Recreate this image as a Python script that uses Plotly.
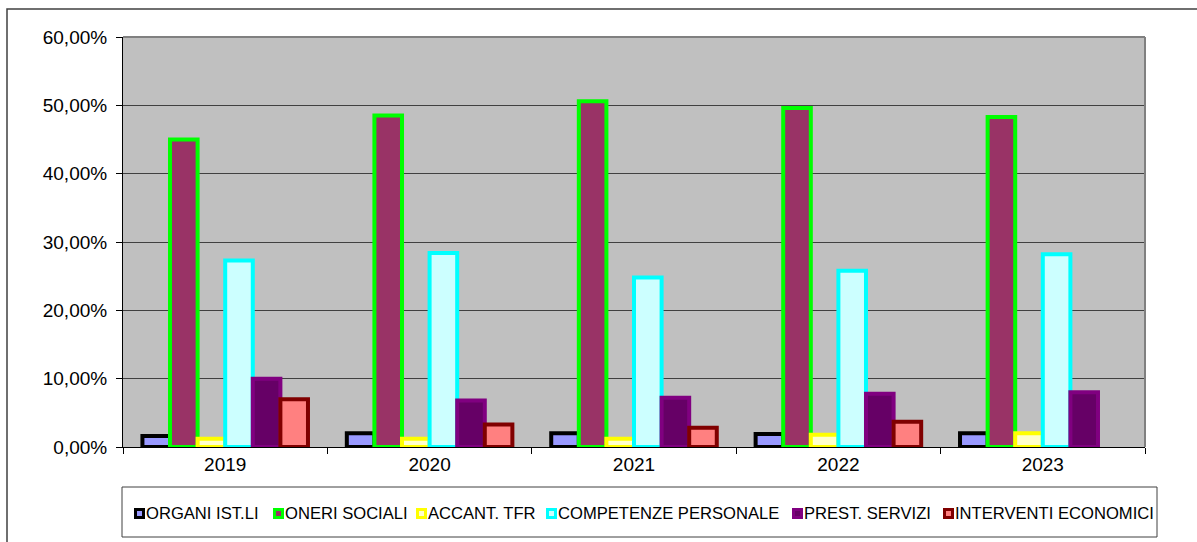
import plotly.graph_objects as go

years = ["2019", "2020", "2021", "2022", "2023"]
organi = [1.6, 2.0, 2.0, 1.9, 2.0]
oneri = [45.0, 48.5, 50.6, 49.6, 48.3]
accant = [1.2, 1.2, 1.2, 1.8, 2.0]
competenze = [27.3, 28.4, 24.8, 25.8, 28.2]
prest = [10.0, 6.8, 7.2, 7.8, 8.0]
interventi = [7.0, 3.3, 2.8, 3.7, None]

names = ["ORGANI IST.LI", "ONERI SOCIALI", "ACCANT. TFR",
         "COMPETENZE PERSONALE", "PREST. SERVIZI", "INTERVENTI ECONOMICI"]
values = [organi, oneri, accant, competenze, prest, interventi]
fills = ["#9999FF", "#993366", "#FFFFCC", "#CCFFFF", "#660066", "#FF8080"]
lines = ["#000000", "#00FF00", "#FFFF00", "#00FFFF", "#800080", "#800000"]

fig = go.Figure()
for name, vals, fill, line in zip(names, values, fills, lines):
    fig.add_trace(go.Bar(
        x=years, y=vals, name=name,
        marker=dict(color=fill, line=dict(color=line, width=4)),
    ))

L, R, T, B = 123, 52, 37, 95
W, H = 1197, 542
pw, ph = W - L - R, H - T - B

def px(x):
    return (x - L) / pw

def py(y):
    return (H - B - y) / ph

shapes = [
    dict(type="rect", xref="paper", yref="paper",
         x0=px(7), x1=px(1300), y0=py(700), y1=py(9),
         line=dict(color="#404040", width=1.5), layer="below"),
    dict(type="rect", xref="paper", yref="paper",
         x0=px(122), x1=px(1157), y0=py(537), y1=py(487),
         line=dict(color="#404040", width=1), layer="below"),
    dict(type="line", xref="paper", yref="paper",
         x0=0, x1=1, y0=1, y1=1,
         line=dict(color="#808080", width=2), layer="above"),
    dict(type="line", xref="paper", yref="paper",
         x0=1, x1=1, y0=0, y1=1,
         line=dict(color="#808080", width=2), layer="above"),
]
annotations = []
# custom legend (compact, like the original)
leg_x = [134, 273, 416, 546, 792, 943]
leg_cy = 513
for lx, name, fill, line in zip(leg_x, names, fills, lines):
    shapes.append(dict(type="rect", xref="paper", yref="paper",
                       x0=px(lx + 1.5), x1=px(lx + 9.5),
                       y0=py(leg_cy + 4.5), y1=py(leg_cy - 3.5),
                       fillcolor=fill, line=dict(color=line, width=3),
                       layer="above"))
    annotations.append(dict(xref="paper", yref="paper",
                            x=px(lx + 10), y=py(leg_cy),
                            xanchor="left", yanchor="middle",
                            text=name, showarrow=False,
                            font=dict(size=16.6, color="black")))

fig.update_layout(
    width=W, height=H,
    margin=dict(l=L, r=R, t=T, b=B),
    paper_bgcolor="white",
    plot_bgcolor="#C0C0C0",
    barmode="group",
    bargap=0.19,
    bargroupgap=0,
    separators=",.",
    font=dict(family="Arial, Liberation Sans, sans-serif", color="black"),
    showlegend=False,
    shapes=shapes,
    annotations=annotations,
)

fig.update_xaxes(
    type="category",
    showline=True, linecolor="black", linewidth=1,
    ticks="outside", tickson="boundaries", ticklen=6, tickcolor="black",
    tickfont=dict(size=19, color="black"),
    showgrid=False,
)
fig.update_yaxes(
    range=[0, 60], dtick=10,
    tickformat=".2f", ticksuffix="%",
    showline=True, linecolor="black", linewidth=1,
    ticks="outside", ticklen=6, tickcolor="black",
    ticklabelstandoff=5,
    tickfont=dict(size=19, color="black"),
    showgrid=True, gridcolor="#404040", gridwidth=1,
    zeroline=False,
)

fig.write_html("out.html")
